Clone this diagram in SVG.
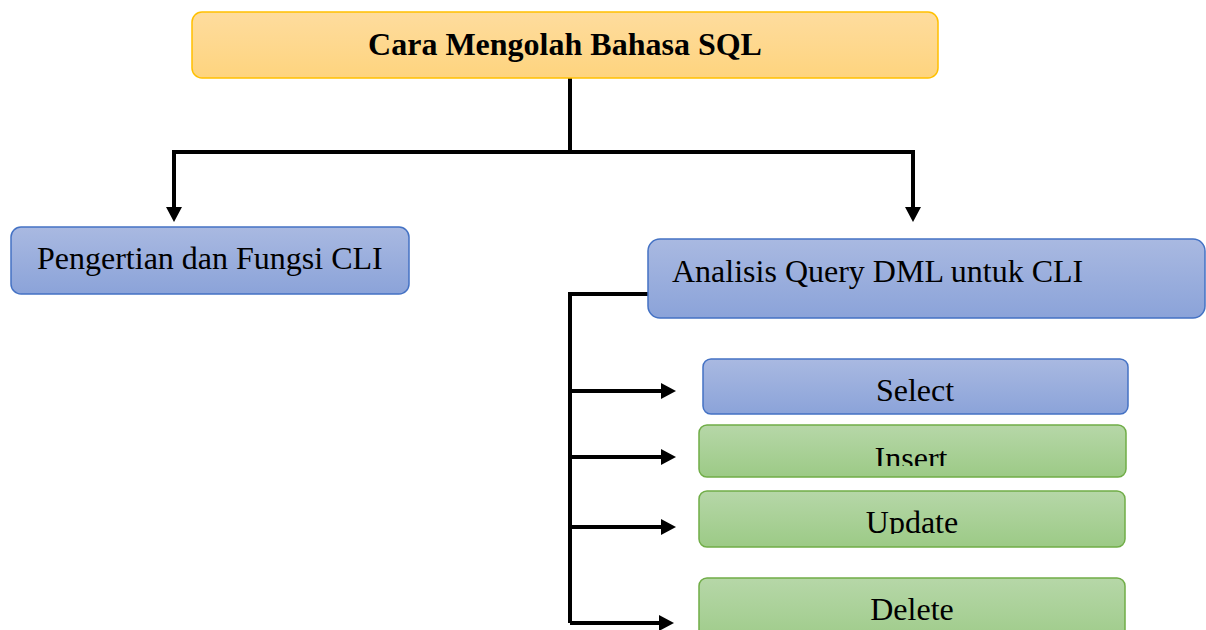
<svg xmlns="http://www.w3.org/2000/svg" width="1206" height="630" viewBox="0 0 1206 630">
<style>
.t{font-family:"Liberation Serif","Times New Roman",serif;font-size:32px;fill:#000}
.b{font-weight:bold}
.blue{fill:url(#gb);stroke:#4472c4;stroke-width:1.5}
.green{fill:url(#gg);stroke:#70ad47;stroke-width:1.5}
.orange{fill:url(#go);stroke:#ffc000;stroke-width:1.5}
.c{fill:none;stroke:#000;stroke-width:4}
</style>
<defs>
<linearGradient id="gb" x1="0" y1="0" x2="0" y2="1"><stop offset="0" stop-color="#a9b9e1"/><stop offset="1" stop-color="#8ba3d9"/></linearGradient>
<linearGradient id="gg" x1="0" y1="0" x2="0" y2="1"><stop offset="0" stop-color="#b6d7a8"/><stop offset="1" stop-color="#9cca86"/></linearGradient>
<linearGradient id="go" x1="0" y1="0" x2="0" y2="1"><stop offset="0" stop-color="#fedc9e"/><stop offset="1" stop-color="#fed47e"/></linearGradient>
<marker id="ah" markerUnits="userSpaceOnUse" markerWidth="15" markerHeight="16" viewBox="0 0 15 16" refX="4" refY="8" orient="auto"><path d="M0,0 L15,8 L0,16 Z" fill="#000"/></marker>
<clipPath id="ci"><rect x="690" y="420" width="450" height="46"/></clipPath>
<clipPath id="cu"><rect x="690" y="486" width="450" height="48"/></clipPath>
</defs>
<g id="connectors">
<path class="c" d="M570,78 V152"/>
<path class="c" d="M174,152 H913"/>
<path class="c" d="M174,150 V211" marker-end="url(#ah)"/>
<path class="c" d="M913,150 V211" marker-end="url(#ah)"/>
<path class="c" d="M648,294 H570 V623"/>
<path class="c" d="M570,391 H665" marker-end="url(#ah)"/>
<path class="c" d="M570,457 H665" marker-end="url(#ah)"/>
<path class="c" d="M570,527 H665" marker-end="url(#ah)"/>
<path class="c" d="M570,623 H663" marker-end="url(#ah)"/>
</g>
<g id="root">
<rect class="orange" x="192" y="12" width="746" height="66" rx="10"/>
<text class="t b" x="565" y="55" text-anchor="middle">Cara Mengolah Bahasa SQL</text>
</g>
<g id="pengertian">
<rect class="blue" x="11" y="227" width="398" height="67" rx="10"/>
<text class="t" x="37" y="269">Pengertian dan Fungsi CLI</text>
</g>
<g id="analisis">
<rect class="blue" x="648" y="239" width="557" height="79" rx="12"/>
<text class="t" x="672" y="282">Analisis Query DML untuk CLI</text>
</g>
<g id="select">
<rect class="blue" x="703" y="359" width="425" height="55" rx="8"/>
<text class="t" x="915" y="401" text-anchor="middle">Select</text>
</g>
<g id="insert">
<rect class="green" x="699" y="425" width="427" height="52" rx="8"/>
<text class="t" x="911" y="469" text-anchor="middle" clip-path="url(#ci)">Insert</text>
</g>
<g id="update">
<rect class="green" x="699" y="491" width="426" height="56" rx="8"/>
<text class="t" x="912" y="533" text-anchor="middle" clip-path="url(#cu)">Update</text>
</g>
<g id="delete">
<rect class="green" x="699" y="578" width="426" height="70" rx="8"/>
<text class="t" x="912" y="620" text-anchor="middle">Delete</text>
</g>
</svg>
